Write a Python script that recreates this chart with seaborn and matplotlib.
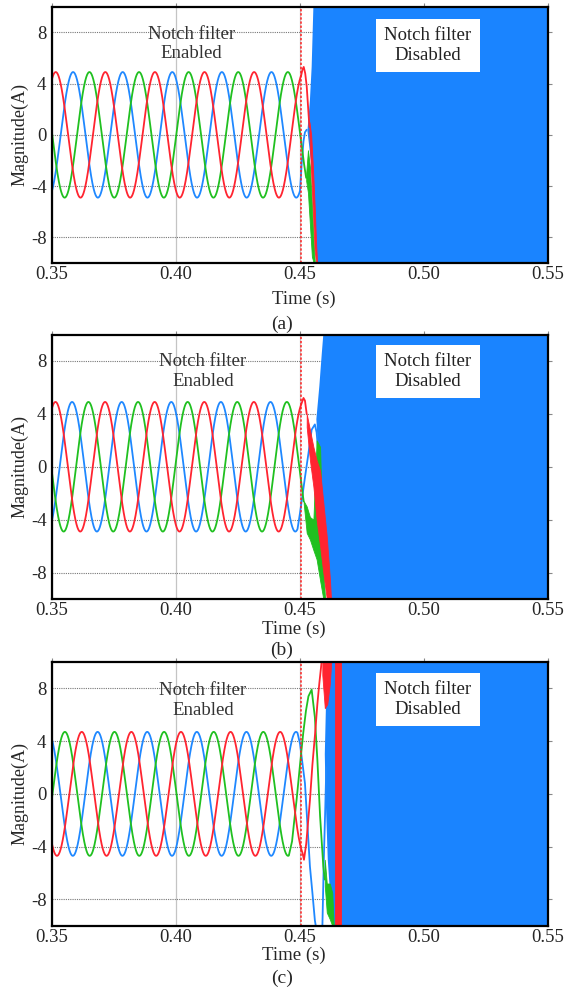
import numpy as np
import pandas as pd
import matplotlib
matplotlib.use('Agg')
import matplotlib.pyplot as plt
import seaborn as sns

# ---- values ----
FREQ = 50.0
PHASES = ['red', 'green', 'blue']
T_SWITCH = 0.4503

XTICKS = [0.35, 0.40, 0.45, 0.50, 0.55]
XTICK_LABELS = ['0.35', '0.40', '0.45', '0.50', '0.55']
YTICKS = [8, 4, 0, -4, -8]
YTICK_LABELS = ['8', '4', '0', '-4', '-8']
CAPTIONS = ['(a)', '(b)', '(c)']

# panel (a): amplitude, time of a peak for red/green/blue, end of the steady part
AMP_A = 4.9
PEAK_A = [0.3515, 0.3651, 0.3585]
END_A = [0.4505, 0.4525, 0.4500]
RED_T_A = [0.4510, 0.4515, 0.4521, 0.4527, 0.4533, 0.4538]
RED_Y_A = [5.1, 5.3, 4.8, 3.8, 2.0, 0.6]
GREEN_T_A = []
GREEN_Y_A = []
BLUE_T_A = [0.4507, 0.4514, 0.4520, 0.4527]
BLUE_Y_A = [-2.2, -0.5, 0.2, 0.4]
RED_BAND_T_A = [0.4538, 0.4545, 0.4552, 0.4559, 0.4565, 0.4569]
RED_BAND_HI_A = [1.0, 0.0, -2.5, -5.5, -8.5, -10]
RED_BAND_LO_A = [0.0, -3.0, -6.0, -9.0, -10, -10]
GREEN_BAND_T_A = [0.4525, 0.4532, 0.4540, 0.4548, 0.4555, 0.4560]
GREEN_BAND_HI_A = [-3.0, -1.2, -2.5, -5.5, -8.5, -10]
GREEN_BAND_LO_A = [-3.6, -4.5, -7.0, -9.5, -10, -10]
BLUE_EDGE_T_A = [0.4554, 0.4547, 0.4540, 0.4530, 0.4550, 0.4568]
BLUE_EDGE_Y_A = [10, 5.3, 2.7, 0.3, -3.0, -10]

# panel (b)
AMP_B = 4.9
PEAK_B = [0.3514, 0.3647, 0.3581]
END_B = [0.4505, 0.4515, 0.4490]
RED_T_B = [0.4510, 0.4514, 0.4520, 0.4527]
RED_Y_B = [5.0, 5.2, 5.0, 4.0]
GREEN_T_B = []
GREEN_Y_B = []
BLUE_T_B = [0.4500, 0.4520, 0.4534, 0.4547, 0.4560, 0.4567, 0.4572]
BLUE_Y_B = [-3.5, -0.8, 1.0, 2.8, 3.2, 2.6, 1.5]
RED_BAND_T_B = [0.4527, 0.4540, 0.4554, 0.4567, 0.4581, 0.4594, 0.4608, 0.4621, 0.4625]
RED_BAND_HI_B = [4.0, 2.8, 1.5, 0.5, -0.3, -2.7, -5.3, -8.6, -10]
RED_BAND_LO_B = [3.0, 0.5, -1.5, -4.0, -6.0, -8.0, -10, -10, -10]
GREEN_BAND_T_B = [0.4515, 0.4527, 0.4540, 0.4554, 0.4567, 0.4581, 0.4594, 0.4601]
GREEN_BAND_HI_B = [-2.6, -3.0, -3.8, -4.0, 2.0, 1.5, -7.5, -10]
GREEN_BAND_LO_B = [-2.8, -5.0, -5.5, -6.3, -7.0, -8.6, -10, -10]
BLUE_EDGE_T_B = [0.4594, 0.4588, 0.4578, 0.4566, 0.4572, 0.4585, 0.4610, 0.4625]
BLUE_EDGE_Y_B = [10, 8.6, 6.1, 3.6, 1.5, -3.0, -8.0, -10]

# panel (c)
AMP_C = 4.7
PEAK_C = [0.3620, 0.3552, 0.3684]
END_C = [0.4510, 0.4455, 0.4490]
RED_T_C = [0.4516, 0.4525, 0.4540, 0.4550, 0.4561, 0.4570, 0.4578, 0.4590]
RED_Y_C = [-5.0, -3.8, -0.5, 2.2, 4.6, 6.8, 8.4, 10.5]
GREEN_T_C = [0.4468, 0.4477, 0.4486, 0.4500, 0.4513, 0.4524, 0.4534, 0.4547,
             0.4560, 0.4570, 0.4581, 0.4594, 0.4600]
GREEN_Y_C = [-3.6, -2.0, -0.5, 2.2, 4.6, 6.3, 7.4, 7.9, 5.8, 2.6, -1.7, -5.5, -6.5]
BLUE_T_C = [0.4500, 0.4520, 0.4540, 0.4550, 0.4560, 0.4568, 0.4578, 0.4590,
            0.4596, 0.4602, 0.4606]
BLUE_Y_C = [3.8, 0.8, -5.5, -7.5, -9.6, -10.5, -11.0, -10.3, -5.0, -1.0, 2.0]
RED_BAND_T_C = [0.4590, 0.4600, 0.4610, 0.4620, 0.4626]
RED_BAND_HI_C = [10, 10, 10, 10, 10]
RED_BAND_LO_C = [9.0, 6.5, 6.8, 8.3, 10]
RED_SPIKE_T_C = [0.4643, 0.4650, 0.4660, 0.4666]
RED_SPIKE_HI_C = [10, 10, 10, 10]
RED_SPIKE_LO_C = [-10, -10, -10, -10]
GREEN_BAND_T_C = [0.4600, 0.4608, 0.4620, 0.4630, 0.4636]
GREEN_BAND_HI_C = [-5.0, -6.8, -6.8, -7.5, -10]
GREEN_BAND_LO_C = [-7.0, -9.0, -9.5, -10, -10]
BLUE_EDGE_T_C = [0.4625, 0.4620, 0.4605, 0.4600, 0.4603, 0.4612, 0.4630]
BLUE_EDGE_Y_C = [10, 8.9, 7.0, 3.0, 0.0, -5.0, -10]

# text positions (data coords)
ENABLED_POS = [(0.4063, 7.1), (0.4109, 7.2), (0.4109, 7.1)]
DISABLED_POS = [(0.5015, 6.97), (0.5016, 7.19), (0.5015, 7.17)]

COLORS = {'red': '#ff2430', 'green': '#20c020', 'blue': '#1f88ff'}
FILL_BLUE = '#1a84ff'

PANELS = [
    dict(amp=AMP_A, peaks=PEAK_A, ends=END_A,
         extra_t=[RED_T_A, GREEN_T_A, BLUE_T_A], extra_y=[RED_Y_A, GREEN_Y_A, BLUE_Y_A],
         edge=(BLUE_EDGE_T_A, BLUE_EDGE_Y_A),
         bands=[('green', GREEN_BAND_T_A, GREEN_BAND_LO_A, GREEN_BAND_HI_A),
                ('red', RED_BAND_T_A, RED_BAND_LO_A, RED_BAND_HI_A)]),
    dict(amp=AMP_B, peaks=PEAK_B, ends=END_B,
         extra_t=[RED_T_B, GREEN_T_B, BLUE_T_B], extra_y=[RED_Y_B, GREEN_Y_B, BLUE_Y_B],
         edge=(BLUE_EDGE_T_B, BLUE_EDGE_Y_B),
         bands=[('green', GREEN_BAND_T_B, GREEN_BAND_LO_B, GREEN_BAND_HI_B),
                ('red', RED_BAND_T_B, RED_BAND_LO_B, RED_BAND_HI_B)]),
    dict(amp=AMP_C, peaks=PEAK_C, ends=END_C,
         extra_t=[RED_T_C, GREEN_T_C, BLUE_T_C], extra_y=[RED_Y_C, GREEN_Y_C, BLUE_Y_C],
         edge=(BLUE_EDGE_T_C, BLUE_EDGE_Y_C),
         bands=[('green', GREEN_BAND_T_C, GREEN_BAND_LO_C, GREEN_BAND_HI_C),
                ('red', RED_BAND_T_C, RED_BAND_LO_C, RED_BAND_HI_C),
                ('red', RED_SPIKE_T_C, RED_SPIKE_LO_C, RED_SPIKE_HI_C)]),
]

# axes boxes in pixels: left, top, right, bottom
AX_PX = [(52, 6.7, 548, 263), (52, 334.5, 548, 599), (52, 662, 548, 925.7)]
XLABEL_PX = [(304, 299), (294, 629), (294, 955)]
CAPTION_PX = [(282, 324), (282, 650), (282, 978)]
W, H = 569, 990

sns.set_style('white')
plt.rcParams['font.family'] = ['Liberation Serif', 'DejaVu Serif']
plt.rcParams['axes.unicode_minus'] = False


def phase_frame(p):
    frames = []
    for name, tp, te, xt, xy in zip(PHASES, p['peaks'], p['ends'], p['extra_t'], p['extra_y']):
        t = np.arange(0.35, te, 0.00005)
        y = p['amp'] * np.cos(2 * np.pi * FREQ * (t - tp))
        t = np.concatenate([t, xt])
        y = np.concatenate([y, xy])
        frames.append(pd.DataFrame({'t': t, 'y': y, 'phase': name}))
    return pd.concat(frames, ignore_index=True)


fig = plt.figure(figsize=(W / 100, H / 100), dpi=100)

for i, p in enumerate(PANELS):
    l, t0, r, b = AX_PX[i]
    ax = fig.add_axes([l / W, 1 - b / H, (r - l) / W, (b - t0) / H])

    df = phase_frame(p)
    sns.lineplot(data=df, x='t', y='y', hue='phase', hue_order=['blue', 'green', 'red'],
                 palette=COLORS, estimator=None, sort=False, legend=False,
                 lw=1.3, ax=ax, zorder=2)

    # unstable region after the notch filter is switched off
    et, ey = p['edge']
    ax.fill(list(et) + [0.56, 0.56], list(ey) + [-10, 10], color=FILL_BLUE, lw=0, zorder=1.8)
    for k, (name, bt, lo, hi) in enumerate(p['bands']):
        ax.fill_between(bt, lo, hi, color=COLORS[name], lw=0.6, ec=COLORS[name], zorder=2.5 + 0.1 * k)

    ax.axvline(T_SWITCH, color='#ff2020', ls=(0, (1.5, 1.2)), lw=1.1, zorder=3)

    ax.set_xlim(0.35, 0.55)
    ax.set_ylim(-10, 10)
    ax.set_xticks(XTICKS)
    ax.set_xticklabels(XTICK_LABELS)
    ax.set_yticks(YTICKS)
    ax.set_yticklabels(YTICK_LABELS)
    ax.tick_params(axis='x', bottom=False, top=True, direction='out', length=3,
                   color='#888888', labelsize=13.5, pad=-0.5)
    ax.tick_params(axis='y', left=False, right=True, direction='out', length=3,
                   color='#888888', labelsize=13.5, pad=1)

    ax.set_axisbelow(True)
    ax.yaxis.grid(True, ls=(0, (1, 1)), color='#777777', lw=0.8)
    ax.xaxis.grid(True, ls='-', color='#c4c4c4', lw=0.9)
    for s in ax.spines.values():
        s.set_color('black')
        s.set_linewidth(1.6)
        s.set_zorder(4)

    ax.set_ylabel('Magnitude(A)', fontsize=13)
    ax.yaxis.set_label_coords(-0.047, 0.5)
    ax.set_xlabel('Time (s)', fontsize=13.5)
    xl, yl = XLABEL_PX[i]
    ax.xaxis.set_label_coords((xl - l) / (r - l), -(yl - b) / (b - t0))
    ax.xaxis.label.set_va('center')

    ex, ey2 = ENABLED_POS[i]
    ax.text(ex, ey2, 'Notch filter\nEnabled', ha='center', va='center', ma='center',
            fontsize=13.5, color='#333333', zorder=3)
    dx, dy = DISABLED_POS[i]
    ax.text(dx, dy, 'Notch filter\nDisabled', ha='center', va='center', ma='center',
            fontsize=13.5, color='#222222', zorder=5,
            bbox=dict(boxstyle='square,pad=0.45', fc='white', ec='none'))

    cx, cy = CAPTION_PX[i]
    fig.text(cx / W, 1 - cy / H, CAPTIONS[i], ha='center', va='center', fontsize=14)

fig.savefig('out.png', dpi=100)
